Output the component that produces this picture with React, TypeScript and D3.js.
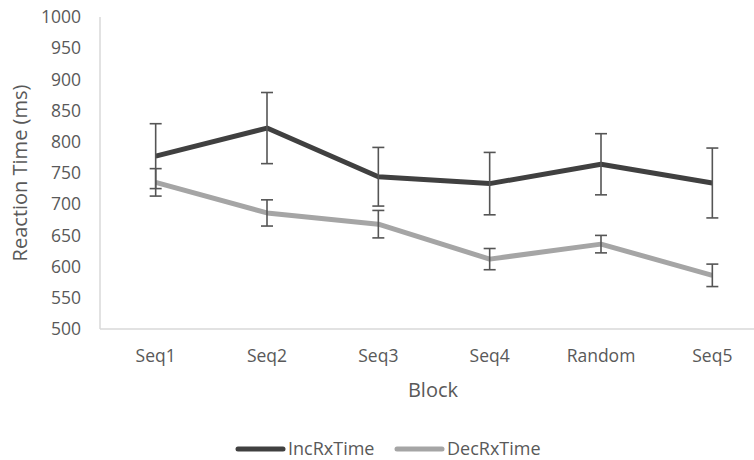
import * as d3 from "d3";

const blocks = ["Seq1", "Seq2", "Seq3", "Seq4", "Random", "Seq5"];
const incRxTime = [777, 822, 744, 733, 764, 734];
const incErr = [52, 57, 47, 50, 49, 56];
const decRxTime = [735, 686, 668, 612, 636, 586];
const decErr = [22, 21, 22, 17, 14, 18];
const yTicks = [500, 550, 600, 650, 700, 750, 800, 850, 900, 950, 1000];

const W = 754;
const H = 460;
const FONT = "'Open Sans', sans-serif";
const TEXT = "#595959";

const series = [
  { name: "IncRxTime", values: incRxTime, err: incErr, color: "#404040" },
  { name: "DecRxTime", values: decRxTime, err: decErr, color: "#a5a5a5" },
];

export default function App() {
  const x = d3.scaleBand<string>().domain(blocks).range([100, 768]);
  const y = d3.scaleLinear().domain([500, 1000]).range([329, 17]);
  const cx = (b: string) => (x(b) ?? 0) + x.bandwidth() / 2;

  const line = d3
    .line<number>()
    .x((_, i) => cx(blocks[i]))
    .y((v) => y(v));

  return (
    <svg
      width={W}
      height={H}
      style={{ position: "absolute", left: 0, top: 0, background: "#fff" }}
      fontFamily={FONT}
    >
      {/* axes */}
      <line x1={100} x2={100} y1={y(1000)} y2={y(500)} stroke="#d9d9d9" strokeWidth={1.5} />
      <line x1={100} x2={W} y1={y(500)} y2={y(500)} stroke="#d9d9d9" strokeWidth={1.5} />

      {yTicks.map((t) => (
        <text
          key={t}
          x={81}
          y={y(t)}
          dy="0.35em"
          textAnchor="end"
          fontSize={17.5}
          fill={TEXT}
        >
          {t}
        </text>
      ))}

      {blocks.map((b) => (
        <text key={b} x={cx(b)} y={356} dy="0.35em" textAnchor="middle" fontSize={17.5} fill={TEXT}>
          {b}
        </text>
      ))}

      <text x={433} y={390} dy="0.35em" textAnchor="middle" fontSize={20} fill={TEXT}>
        Block
      </text>
      <text
        transform={`translate(20, ${y(750)}) rotate(-90)`}
        dy="0.35em"
        textAnchor="middle"
        fontSize={20}
        fill={TEXT}
      >
        Reaction Time (ms)
      </text>

      {/* series */}
      {series.map((s) => (
        <path
          key={s.name}
          d={line(s.values) ?? ""}
          fill="none"
          stroke={s.color}
          strokeWidth={5}
          strokeLinejoin="round"
        />
      ))}

      {/* error bars */}
      {series.map((s) =>
        s.values.map((v, i) => {
          const px = cx(blocks[i]);
          const top = y(v + s.err[i]);
          const bot = y(v - s.err[i]);
          return (
            <g key={s.name + i} stroke="#555" strokeWidth={1.6}>
              <line x1={px} x2={px} y1={top} y2={bot} />
              <line x1={px - 6} x2={px + 6} y1={top} y2={top} />
              <line x1={px - 6} x2={px + 6} y1={bot} y2={bot} />
            </g>
          );
        })
      )}

      {/* legend */}
      {series.map((s, i) => {
        const lx = i === 0 ? 238 : 397;
        return (
          <g key={s.name}>
            <line x1={lx} x2={lx + 45} y1={449} y2={449} stroke={s.color} strokeWidth={5} strokeLinecap="round" />
            <text x={lx + 50} y={449} dy="0.35em" fontSize={18} fill={TEXT}>
              {s.name}
            </text>
          </g>
        );
      })}
    </svg>
  );
}
